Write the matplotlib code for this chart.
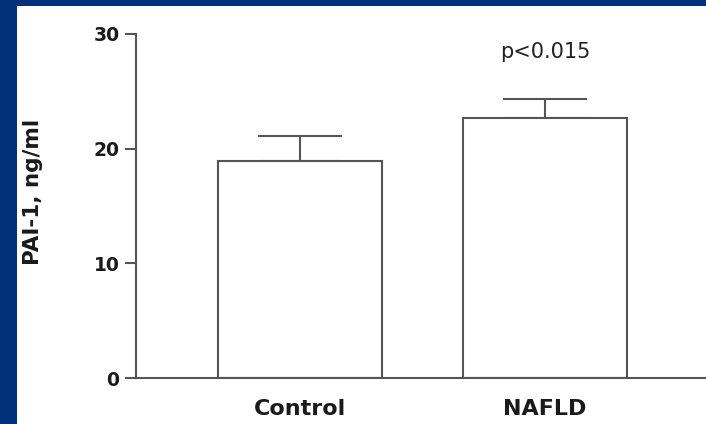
# PAI-1 levels, Control vs NAFLD (bar + SEM)
import numpy as np
import matplotlib.pyplot as plt

groups = ['Control', 'NAFLD']
means = [18.9, 22.7]
errs = [2.2, 1.6]
yticks = [0, 10, 20, 30]
ptext = 'p<0.015'

navy = '#00307a'
linec = '#555555'

fig = plt.figure(figsize=(7.06, 4.24), dpi=100)
fig.patch.set_facecolor(navy)
# white panel behind the chart (navy frame only on top and left)
bg = fig.add_axes([17/706, 0, 1 - 17/706, 1 - 6/424], zorder=-1)
bg.set_facecolor('white')
bg.set_xticks([])
bg.set_yticks([])
for s in bg.spines.values():
    s.set_visible(False)

ax = fig.add_axes([136/706, 1 - 378/424, 1 - 136/706, (378 - 34)/424])
ax.set_facecolor('none')

x = np.arange(len(groups))
ax.bar(x, means, width=0.67, color='white', edgecolor=linec, linewidth=1.5, zorder=2)
ax.errorbar(x, means, yerr=[np.zeros(len(errs)), errs], fmt='none', ecolor=linec,
            elinewidth=1.5, capsize=30, capthick=1.5, zorder=1)
ax.text(x[1], means[1] + errs[1] + 3.3, ptext, ha='center', va='bottom',
        fontsize=15, color='#222222')

ax.set_xlim(-0.669, 1.657)
ax.set_ylim(0, 30)
ax.set_yticks(yticks)
ax.set_xticks(x)
ax.set_xticklabels(groups, fontsize=16, fontweight='bold', color='#1a1a1a')
ax.tick_params(axis='x', length=0, pad=15)
ax.tick_params(axis='y', length=8, width=1.5, color=linec, pad=4,
               labelsize=13.5, labelcolor='#1a1a1a')
for t in ax.get_yticklabels():
    t.set_fontweight('bold')
for s in ['top', 'right']:
    ax.spines[s].set_visible(False)
for s in ['left', 'bottom']:
    ax.spines[s].set_color(linec)
    ax.spines[s].set_linewidth(1.5)

ax.set_ylabel('PAI-1, ng/ml', fontsize=15.5, fontweight='bold', color='#1a1a1a')
ax.yaxis.set_label_coords(-(136 - 43) / 570, (378 - 191.5) / 344)

fig.savefig('out.png', dpi=100, facecolor=fig.get_facecolor())
